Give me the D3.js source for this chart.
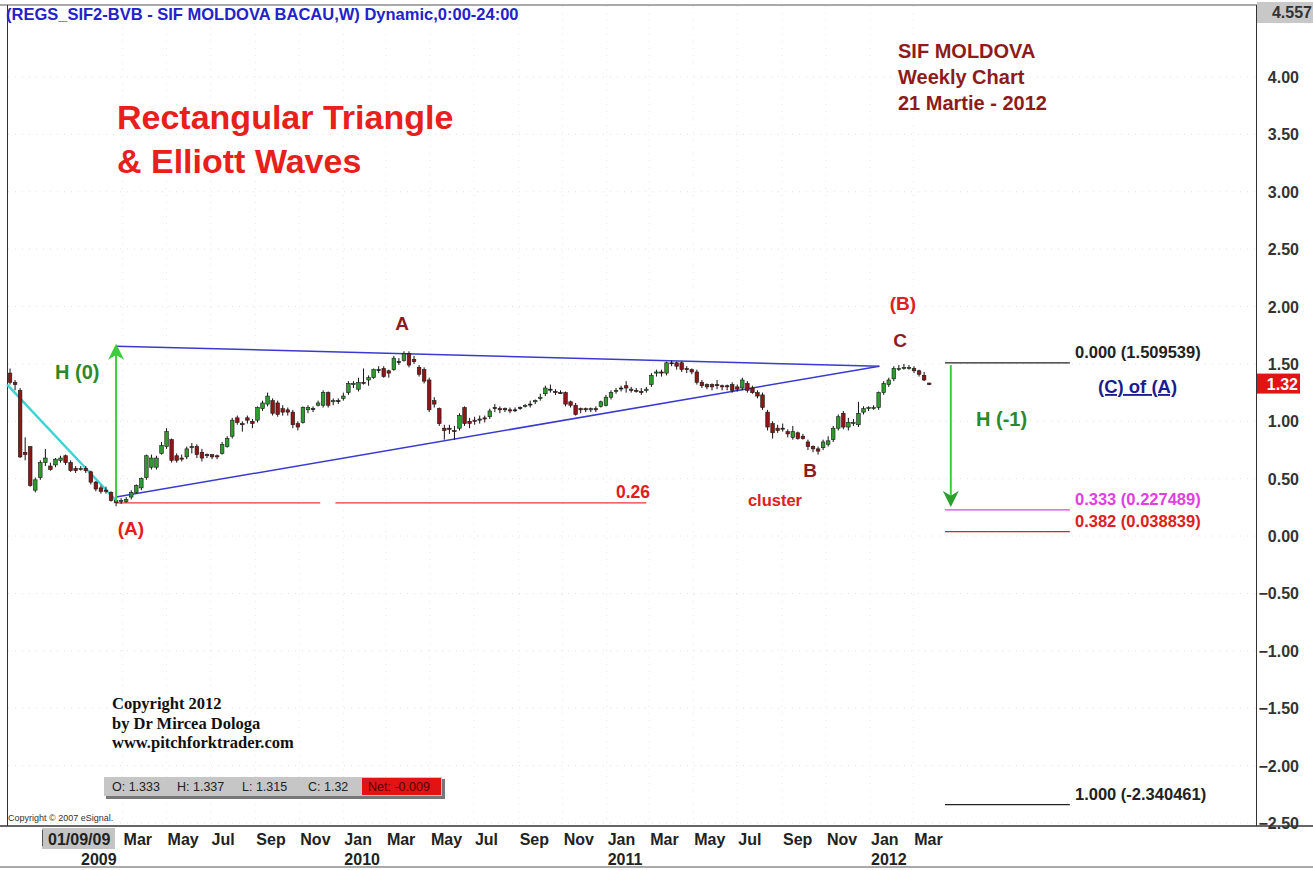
<!DOCTYPE html>
<html>
<head>
<meta charset="utf-8">
<script src="https://cdn.jsdelivr.net/npm/d3@7"></script>
<style>
  body { margin: 0; background: #fff; }
  svg { display: block; font-family: "Liberation Sans", Arial, sans-serif; }
</style>
</head>
<body>
<svg id="chart" width="1313" height="870"></svg>
<script>
// weekly candles, first bar 26 Sep 2008, last bar 16 Mar 2012
const firstWeek = "2008-09-26";

const opens = [
  1.42,1.34,1.27,0.73,0.78,0.40,0.51,0.64,0.61,0.62,
  0.66,0.70,0.64,0.59,0.58,0.59,0.56,0.47,0.42,0.40,
  0.38,0.31,0.30,0.30,0.34,0.38,0.42,0.51,0.60,0.60,
  0.72,0.78,0.84,0.70,0.68,0.69,0.77,0.78,0.73,0.71,
  0.71,0.70,0.72,0.78,0.87,1.03,0.98,1.03,1.00,1.01,
  1.11,1.15,1.18,1.16,1.11,1.10,1.08,0.98,0.99,1.10,
  1.11,1.14,1.14,1.25,1.17,1.18,1.20,1.25,1.32,1.28,
  1.34,1.36,1.38,1.45,1.46,1.44,1.45,1.52,1.53,1.59,
  1.54,1.47,1.45,1.36,1.18,1.11,0.94,0.94,0.92,0.94,
  1.12,1.00,1.01,1.02,1.03,1.04,1.12,1.11,1.11,1.10,
  1.10,1.12,1.13,1.15,1.17,1.20,1.24,1.28,1.26,1.25,
  1.25,1.17,1.14,1.11,1.11,1.10,1.11,1.13,1.14,1.21,
  1.26,1.29,1.31,1.28,1.27,1.26,1.27,1.32,1.42,1.43,
  1.42,1.51,1.51,1.51,1.46,1.45,1.43,1.34,1.32,1.32,
  1.32,1.31,1.31,1.32,1.30,1.29,1.33,1.29,1.25,1.23,
  1.08,0.98,0.94,0.94,0.91,0.86,0.90,0.87,0.82,0.78,
  0.76,0.77,0.80,0.84,0.94,1.07,0.95,0.98,0.97,1.08,
  1.11,1.11,1.12,1.25,1.32,1.37,1.45,1.46,1.46,1.46,
  1.44,1.40,1.333
];
const highs = [
  1.46,1.36,1.29,0.86,0.78,0.51,0.66,0.76,0.64,0.68,
  0.70,0.71,0.66,0.61,0.61,0.61,0.57,0.48,0.44,0.43,
  0.39,0.32,0.33,0.34,0.40,0.45,0.51,0.71,0.71,0.70,
  0.82,0.94,0.85,0.72,0.71,0.78,0.81,0.80,0.76,0.72,
  0.71,0.71,0.82,0.87,1.03,1.05,1.00,1.05,1.02,1.13,
  1.18,1.25,1.20,1.18,1.14,1.12,1.10,1.00,1.13,1.14,
  1.13,1.18,1.27,1.26,1.20,1.20,1.25,1.35,1.35,1.38,
  1.46,1.40,1.46,1.48,1.48,1.45,1.57,1.55,1.61,1.61,
  1.57,1.49,1.47,1.38,1.21,1.12,0.97,0.97,0.96,1.07,
  1.13,1.03,1.04,1.05,1.05,1.11,1.15,1.13,1.12,1.12,
  1.12,1.13,1.15,1.18,1.19,1.24,1.31,1.32,1.28,1.27,
  1.26,1.18,1.16,1.12,1.12,1.12,1.13,1.18,1.23,1.27,
  1.29,1.31,1.35,1.30,1.29,1.29,1.30,1.42,1.45,1.45,
  1.52,1.53,1.52,1.52,1.48,1.46,1.45,1.36,1.33,1.33,
  1.36,1.32,1.32,1.34,1.32,1.38,1.35,1.31,1.27,1.25,
  1.10,1.00,0.97,0.98,0.93,0.96,0.91,0.89,0.84,0.79,
  0.78,0.84,0.87,0.96,1.06,1.09,1.03,1.02,1.17,1.13,
  1.13,1.14,1.26,1.35,1.38,1.48,1.49,1.50,1.49,1.48,
  1.45,1.43,1.337
];
const lows = [
  1.32,1.27,0.68,0.66,0.43,0.38,0.49,0.61,0.57,0.60,
  0.64,0.62,0.56,0.55,0.57,0.55,0.45,0.39,0.37,0.37,
  0.30,0.26,0.28,0.29,0.32,0.37,0.40,0.49,0.58,0.58,
  0.71,0.76,0.64,0.64,0.65,0.67,0.72,0.68,0.65,0.68,
  0.67,0.67,0.71,0.77,0.85,0.97,0.91,0.98,0.94,0.99,
  1.09,1.13,1.05,1.04,1.05,1.05,0.94,0.92,0.98,1.07,
  1.08,1.13,1.12,1.12,1.14,1.15,1.18,1.23,1.29,1.26,
  1.32,1.31,1.37,1.42,1.38,1.38,1.44,1.49,1.52,1.47,
  1.50,1.39,1.33,1.08,1.12,0.96,0.84,0.89,0.84,0.92,
  0.96,0.94,0.97,0.98,0.99,1.02,1.08,1.07,1.08,1.07,
  1.08,1.10,1.12,1.12,1.15,1.18,1.22,1.25,1.23,1.24,
  1.13,1.12,1.05,1.07,1.08,1.08,1.08,1.12,1.13,1.19,
  1.24,1.26,1.25,1.25,1.25,1.23,1.25,1.30,1.39,1.39,
  1.40,1.48,1.45,1.43,1.42,1.41,1.32,1.29,1.28,1.27,
  1.28,1.27,1.27,1.25,1.26,1.27,1.25,1.24,1.20,1.10,
  0.92,0.85,0.90,0.91,0.86,0.84,0.84,0.84,0.75,0.73,
  0.71,0.75,0.78,0.82,0.92,0.93,0.92,0.96,0.95,1.06,
  1.09,1.10,1.10,1.23,1.30,1.35,1.44,1.45,1.45,1.42,
  1.39,1.35,1.315
];
const closes = [
  1.34,1.32,0.69,0.71,0.44,0.49,0.64,0.68,0.58,0.67,
  0.68,0.64,0.57,0.57,0.59,0.57,0.47,0.41,0.39,0.39,
  0.31,0.29,0.31,0.32,0.38,0.44,0.50,0.70,0.68,0.68,
  0.79,0.91,0.66,0.66,0.67,0.76,0.78,0.71,0.68,0.70,
  0.69,0.69,0.80,0.85,1.01,0.99,0.97,1.01,0.98,1.12,
  1.16,1.22,1.07,1.06,1.08,1.08,0.97,0.95,1.12,1.12,
  1.11,1.16,1.25,1.14,1.18,1.18,1.22,1.33,1.33,1.34,
  1.33,1.38,1.45,1.45,1.39,1.42,1.55,1.52,1.59,1.49,
  1.52,1.41,1.35,1.10,1.15,0.98,0.92,0.93,0.91,1.05,
  0.98,0.98,1.00,1.01,1.02,1.09,1.12,1.10,1.10,1.09,
  1.10,1.12,1.14,1.15,1.18,1.21,1.29,1.28,1.25,1.25,
  1.15,1.14,1.06,1.10,1.10,1.11,1.10,1.17,1.21,1.25,
  1.27,1.29,1.29,1.27,1.26,1.25,1.28,1.40,1.43,1.42,
  1.51,1.51,1.48,1.45,1.45,1.43,1.34,1.31,1.30,1.30,
  1.31,1.30,1.30,1.27,1.28,1.36,1.27,1.25,1.22,1.12,
  0.95,0.90,0.92,0.94,0.89,0.91,0.85,0.85,0.78,0.76,
  0.74,0.82,0.83,0.94,1.04,0.95,0.99,0.99,1.07,1.11,
  1.12,1.12,1.25,1.33,1.36,1.46,1.46,1.47,1.47,1.44,
  1.41,1.36,1.32
];

const priceTicks = [4.0,3.5,3.0,2.5,2.0,1.5,1.0,0.5,0.0,-0.5,-1.0,-1.5,-2.0,-2.5];
const monthTicks = ["2009-03-01","2009-05-01","2009-07-01","2009-09-01","2009-11-01","2010-01-01",
  "2010-03-01","2010-05-01","2010-07-01","2010-09-01","2010-11-01","2011-01-01",
  "2011-03-01","2011-05-01","2011-07-01","2011-09-01","2011-11-01","2012-01-01","2012-03-01"];
const monthLabels = ["Mar","May","Jul","Sep","Nov","Jan","Mar","May","Jul","Sep","Nov","Jan",
  "Mar","May","Jul","Sep","Nov","Jan","Mar"];
const yearTicks = ["2009-01-01","2010-01-01","2011-01-01","2012-01-01"];
const yearLabels = ["2009","2010","2011","2012"];

// fibonacci projection levels
const fibLevels = [
  {v: 1.509539, label: "0.000 (1.509539)", color: "#222"},
  {v: 0.227489, label: "0.333 (0.227489)", color: "#e040e0"},
  {v: 0.038839, label: "0.382 (0.038839)", color: "#e02020"},
  {v: -2.340461, label: "1.000 (-2.340461)", color: "#222"}
];

const svg = d3.select("#chart");
const parse = d3.timeParse("%Y-%m-%d");

let x = d3.scaleTime()
  .domain([parse("2009-01-01"), parse("2012-01-01")])
  .range([80, 870]);
let y = d3.scaleLinear()
  .domain([-2.5, 4.0])
  .range([823, 77]);

let start = parse(firstWeek);
let candles = opens.map((o, i) => ({
  date: d3.timeDay.offset(start, 7 * i),
  o: o, h: highs[i], l: lows[i], c: closes[i]
}));

// faint dotted grid
let grid = svg.append("g");
grid.selectAll(".hg").data(priceTicks).enter().append("line")
  .attr("x1", 8).attr("x2", 1256)
  .attr("y1", d => y(d)).attr("y2", d => y(d))
  .attr("stroke", "#e2e2e2").attr("stroke-dasharray", "1,6");
grid.selectAll(".vg").data(monthTicks).enter().append("line")
  .attr("x1", d => x(parse(d))).attr("x2", d => x(parse(d)))
  .attr("y1", 6).attr("y2", 825)
  .attr("stroke", "#e8e8e8").attr("stroke-dasharray", "1,6");

// frame
svg.append("line").attr("x1", 0).attr("x2", 1313).attr("y1", 5).attr("y2", 5).attr("stroke", "#555");
svg.append("line").attr("x1", 7.5).attr("x2", 7.5).attr("y1", 5).attr("y2", 826).attr("stroke", "#333");
svg.append("line").attr("x1", 1256.5).attr("x2", 1256.5).attr("y1", 5).attr("y2", 826).attr("stroke", "#333");
svg.append("line").attr("x1", 0).attr("x2", 1313).attr("y1", 826).attr("y2", 826).attr("stroke", "#333").attr("stroke-width", 1.5);
svg.append("line").attr("x1", 0).attr("x2", 1313).attr("y1", 867).attr("y2", 867).attr("stroke", "#555");

// title
svg.append("text").attr("x", 6).attr("y", 20)
  .attr("fill", "#2323c8").attr("font-weight", "bold").attr("font-size", 16.5)
  .text("(REGS_SIF2-BVB - SIF MOLDOVA BACAU,W) Dynamic,0:00-24:00");

// price axis
let yAxis = svg.append("g");
yAxis.selectAll("text").data(priceTicks).enter().append("text")
  .attr("x", 1299).attr("y", d => y(d) + 6)
  .attr("text-anchor", "end").attr("font-weight", "bold").attr("font-size", 16).attr("fill", "#333")
  .text(d => d3.format(".2f")(d));
svg.append("rect").attr("x", 1257).attr("y", 2).attr("width", 56).attr("height", 21).attr("fill", "#c8c8c8");
svg.append("text").attr("x", 1312).attr("y", 18).attr("text-anchor", "end")
  .attr("font-weight", "bold").attr("font-size", 16).attr("fill", "#333").text("4.557");
let last = candles[candles.length - 1];
svg.append("rect").attr("x", 1257).attr("y", y(last.c) - 11).attr("width", 43).attr("height", 20).attr("fill", "#e01414");
svg.append("text").attr("x", 1298).attr("y", y(last.c) + 5).attr("text-anchor", "end")
  .attr("font-weight", "bold").attr("font-size", 16).attr("fill", "#fff").text(d3.format(".2f")(last.c));

// time axis
let axisFont = "'Liberation Sans Narrow', 'Arial Narrow', 'Liberation Sans', Arial, sans-serif";
svg.append("rect").attr("x", 42).attr("y", 828).attr("width", 73).attr("height", 21).attr("fill", "#c4c4c4");
svg.append("line").attr("x1", 42.5).attr("x2", 42.5).attr("y1", 830).attr("y2", 846).attr("stroke", "#555");
svg.append("text").attr("x", 48).attr("y", 845).attr("font-family", axisFont)
  .attr("font-weight", "bold").attr("font-size", 16).attr("fill", "#222").text("01/09/09");
svg.append("g").selectAll("text").data(monthTicks).enter().append("text")
  .attr("x", d => x(parse(d)) + 1).attr("y", 845)
  .attr("font-family", axisFont).attr("font-weight", "bold").attr("font-size", 16).attr("fill", "#222")
  .text((d, i) => monthLabels[i]);
svg.append("g").selectAll("text").data(yearTicks).enter().append("text")
  .attr("x", d => x(parse(d)) + 1).attr("y", 865)
  .attr("font-family", axisFont).attr("font-weight", "bold").attr("font-size", 16).attr("fill", "#222")
  .text((d, i) => yearLabels[i]);
svg.append("text").attr("x", 8).attr("y", 821).attr("font-size", 9).attr("fill", "#333")
  .text("Copyright \u00a9 2007 eSignal.");

// trend / triangle lines
const dA = parse("2009-02-20"), dApex = parse("2012-01-14");
let lines = svg.append("g");
lines.append("line")
  .attr("x1", x(parse("2008-09-22"))).attr("y1", y(1.32))
  .attr("x2", x(dA)).attr("y2", y(0.31))
  .attr("stroke", "#3fd4d4").attr("stroke-width", 2.5);
lines.append("line")
  .attr("x1", x(dA)).attr("y1", y(1.655)).attr("x2", x(dApex)).attr("y2", y(1.48))
  .attr("stroke", "#3a3ad0").attr("stroke-width", 1.5);
lines.append("line")
  .attr("x1", x(dA)).attr("y1", y(0.34)).attr("x2", x(dApex)).attr("y2", y(1.48))
  .attr("stroke", "#3a3ad0").attr("stroke-width", 1.5);
lines.append("line")
  .attr("x1", x(dA)).attr("y1", y(0.29)).attr("x2", x(parse("2009-11-30"))).attr("y2", y(0.29))
  .attr("stroke", "#e03a3a").attr("stroke-width", 1.3);
lines.append("line")
  .attr("x1", x(parse("2009-12-21"))).attr("y1", y(0.29)).attr("x2", x(parse("2011-02-25"))).attr("y2", y(0.29))
  .attr("stroke", "#e03a3a").attr("stroke-width", 1.3);

// candles
let cg = svg.append("g");
let bw = 3.6;
cg.selectAll(".wick").data(candles).enter().append("line")
  .attr("x1", d => x(d.date)).attr("x2", d => x(d.date))
  .attr("y1", d => y(d.h)).attr("y2", d => y(d.l))
  .attr("stroke", "#111").attr("stroke-width", 1);
cg.selectAll(".body").data(candles).enter().append("rect")
  .attr("x", d => x(d.date) - bw / 2)
  .attr("y", d => y(Math.max(d.o, d.c)))
  .attr("width", bw)
  .attr("height", d => Math.max(1, Math.abs(y(d.o) - y(d.c))))
  .attr("fill", d => d.c > d.o ? "#2f9b2f" : (d.c < d.o ? "#8e1616" : "#111"))
  .attr("stroke", "#1a1a1a").attr("stroke-width", 0.6);

// H arrows
let green = "#3ccc3c";
svg.append("defs").html(
  '<marker id="ah" viewBox="0 0 10 10" refX="6" refY="5" markerWidth="8" markerHeight="8" orient="auto">' +
  '<path d="M0,0 L10,5 L0,10 L3,5 Z" fill="' + green + '"/></marker>' +
  '<marker id="ah2" viewBox="0 0 10 10" refX="6" refY="5" markerWidth="8" markerHeight="8" orient="auto">' +
  '<path d="M0,0 L10,5 L0,10 L3,5 Z" fill="#2aa02a"/></marker>');
svg.append("line")
  .attr("x1", x(dA)).attr("y1", y(0.30)).attr("x2", x(dA)).attr("y2", y(1.62))
  .attr("stroke", green).attr("stroke-width", 2).attr("marker-end", "url(#ah)");
const dH1 = parse("2012-04-22");
svg.append("line")
  .attr("x1", x(dH1)).attr("y1", y(1.49)).attr("x2", x(dH1)).attr("y2", y(0.31))
  .attr("stroke", green).attr("stroke-width", 2).attr("marker-end", "url(#ah2)");

// fib projection levels
let fib = svg.append("g");
fib.selectAll("line").data(fibLevels).enter().append("line")
  .attr("x1", x(parse("2012-04-14"))).attr("x2", x(parse("2012-10-04")))
  .attr("y1", d => y(d.v)).attr("y2", d => y(d.v))
  .attr("stroke", d => d.color).attr("stroke-width", 1.2);
fib.selectAll("text").data(fibLevels).enter().append("text")
  .attr("x", 1075).attr("y", d => y(d.v) - 5)
  .attr("font-weight", "bold").attr("font-size", 16.5).attr("fill", d => d.color)
  .text(d => d.label);

// annotations
function label(t, px, py, color, size, anchor) {
  svg.append("text").attr("x", px).attr("y", py)
    .attr("text-anchor", anchor || "start").attr("font-weight", "bold")
    .attr("font-size", size).attr("fill", color).text(t);
}
label("Rectangular Triangle", 117, 129, "#e8201c", 34);
label("& Elliott Waves", 117, 173, "#e8201c", 34);
label("SIF MOLDOVA", 898, 58, "#8c1c1c", 20);
label("Weekly Chart", 898, 84, "#8c1c1c", 20);
label("21 Martie - 2012", 898, 110, "#8c1c1c", 20);
label("H (0)", 55, 379, "#2a8a2a", 20);
label("H (-1)", 976, 426, "#2a8a2a", 20);
label("A", 402, 330, "#8c1c1c", 19, "middle");
label("(B)", 903, 310, "#e02020", 19, "middle");
label("C", 900, 347, "#8c1c1c", 19, "middle");
label("B", 810, 477, "#8c1c1c", 19, "middle");
label("(A)", 131, 535, "#e02020", 19, "middle");
label("0.26", 633, 498, "#e02020", 17.5, "middle");
svg.append("text").attr("x", 775).attr("y", 506).attr("text-anchor", "middle")
  .attr("font-size", 16.5).attr("fill", "#e02020").attr("font-weight", "bold").text("cluster");
svg.append("text").attr("x", 1098).attr("y", 393)
  .attr("font-weight", "bold").attr("font-size", 18.5).attr("fill", "#1c1c8c")
  .attr("text-decoration", "underline").text("(C) of (A)");

// copyright block
let serif = "'Liberation Serif', 'Times New Roman', serif";
["Copyright 2012", "by Dr Mircea Dologa", "www.pitchforktrader.com"].forEach((t, i) => {
  svg.append("text").attr("x", 112).attr("y", 709 + i * 19.5)
    .attr("font-family", serif).attr("font-weight", "bold").attr("font-size", 16.5).attr("fill", "#111").text(t);
});

// OHLC box
svg.append("rect").attr("x", 106).attr("y", 779).attr("width", 339).attr("height", 20).attr("fill", "#777");
svg.append("rect").attr("x", 104).attr("y", 777).attr("width", 338).attr("height", 19).attr("fill", "#c6c6c6");
svg.append("rect").attr("x", 362).attr("y", 778).attr("width", 79).attr("height", 17).attr("fill", "#e01414");
let ohlc = [["O: 1.333", 112], ["H: 1.337", 177], ["L: 1.315", 242], ["C:  1.32", 308]];
ohlc.forEach(d => {
  svg.append("text").attr("x", d[1]).attr("y", 791).attr("font-size", 12.5).attr("fill", "#222").text(d[0]);
});
svg.append("text").attr("x", 368).attr("y", 791).attr("font-size", 12.5).attr("fill", "#5a0000").text("Net: -0.009");
</script>
</body>
</html>
